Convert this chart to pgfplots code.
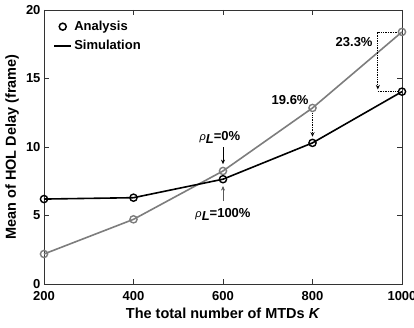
\documentclass[border=0pt]{standalone}
\usepackage{fontspec}
\setmainfont{Liberation Sans}
\usepackage{pgfplots}
\pgfplotsset{compat=1.18}
\usetikzlibrary{arrows.meta}
\definecolor{ana}{RGB}{125,125,125}
\begin{document}
\begin{tikzpicture}
\begin{axis}[
 scale only axis, width=358pt, height=274pt,
 xmin=200, xmax=1000, ymin=0, ymax=20,
 xtick={200,400,...,1000}, ytick={0,5,...,20},
 tick align=inside, major tick length=5pt,
 axis line style={black!80, line width=0.8pt},
 tick style={black!80, line width=0.6pt},
 ticklabel style={font=\fontsize{13}{15}\selectfont\bfseries},
 xticklabel style={yshift=-4pt},
 /pgf/number format/assume math mode=true,
 /pgf/number format/1000 sep={},
 xlabel={The total number of MTDs \textit{K}},
 ylabel={Mean of HOL Delay (frame)},
 label style={font=\fontsize{14.5}{17}\selectfont\bfseries},
 xlabel style={at={(axis description cs:0.5,-0.106)}, anchor=center},
 ylabel style={at={(axis description cs:-0.089,0.5)}, anchor=center},
 clip=false,
 legend style={at={(axis description cs:0,1)}, anchor=north west, draw=none, fill=none,
   font=\fontsize{13}{15}\selectfont\bfseries, row sep=4pt, xshift=6pt, yshift=-7pt,
   /tikz/every even column/.append style={column sep=10pt}},
 legend cell align=left,
]
\coordinate (o) at (rel axis cs:0,0);
\addlegendimage{only marks, mark=o, mark size=3.5pt, black, line width=1.5pt}
\addlegendentry{Analysis}
\addlegendimage{black, line width=2pt}
\addlegendentry{Simulation}
\addplot[ana, line width=1.6pt, mark=o, mark size=3.6pt, mark options={line width=1.4pt}, forget plot]
 coordinates {(200,2.19) (400,4.72) (600,8.25) (800,12.85) (1000,18.4)};
\addplot[black, line width=1.6pt, mark=o, mark size=3.6pt, mark options={line width=1.4pt}, forget plot]
 coordinates {(200,6.2) (400,6.3) (600,7.65) (800,10.3) (1000,14.04)};
% annotations
\node[font=\fontsize{13}{15}\selectfont\bfseries] at (axis cs:593,10.7)
 {\mbox{{\fontsize{11}{13}\selectfont\mdseries\itshape ρ}\raisebox{-0.45ex}{\textit{L}}=0\%}};
\node[font=\fontsize{13}{15}\selectfont\bfseries] at (axis cs:600,5.1)
 {\mbox{{\fontsize{11}{13}\selectfont\mdseries\itshape ρ}\raisebox{-0.45ex}{\textit{L}}=100\%}};
\draw[black, line width=0.7pt, -{Stealth[length=4.5pt,width=4pt]}] (axis cs:600,10.0) -- (axis cs:600,8.75);
\draw[black!65, line width=0.7pt, -{Stealth[length=4.5pt,width=4pt]}] (axis cs:600,6.05) -- (axis cs:600,7.15);
\node[font=\fontsize{13}{15}\selectfont\bfseries] at (axis cs:750,13.4) {19.6\%};
\draw[black, line width=0.7pt, densely dotted, -{Stealth[length=4.5pt,width=4pt]}] (axis cs:800,12.45) -- (axis cs:800,10.75);
\node[font=\fontsize{13}{15}\selectfont\bfseries] at (axis cs:893,17.65) {23.3\%};
\draw[black, line width=0.7pt, densely dotted, -{Stealth[length=4.5pt,width=4pt]}] (axis cs:993,18.4) -- (axis cs:946,18.4) -- (axis cs:946,14.2);
\draw[black, line width=0.7pt, densely dotted] (axis cs:946,14.04) -- (axis cs:993,14.04);
\end{axis}
\pgfresetboundingbox
\path[use as bounding box] ([shift={(-44pt,-43pt)}]o) rectangle ([shift={(370pt,284pt)}]o);
\end{tikzpicture}
\end{document}
